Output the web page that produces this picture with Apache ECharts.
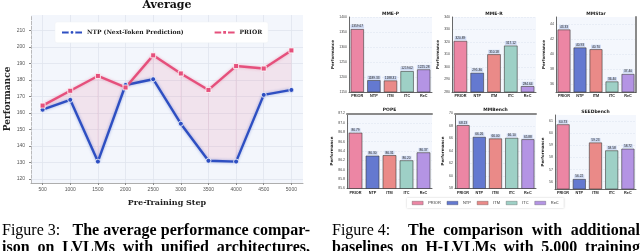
<!DOCTYPE html>
<html><head><meta charset="utf-8">
<script src="https://cdn.jsdelivr.net/npm/echarts@6/dist/echarts.min.js"></script>
<style>html,body{margin:0;padding:0;background:#fff}#c{width:640px;height:251px}</style>
</head><body><div id="c"></div>
<script>
// ---------- data ----------
const steps = [500, 1000, 1500, 2000, 2500, 3000, 3500, 4000, 4500, 5000];
const ntpAvg = [162, 168, 130.5, 177, 180.5, 153.5, 131, 130.5, 171, 174];
const priorAvg = [164.5, 173.5, 182.5, 175.5, 195, 184, 174, 188.5, 187, 198];
const perfTicks = [120, 130, 140, 150, 160, 170, 180, 190, 200, 210];

const methods = ['PRIOR', 'NTP', 'ITM', 'ITC', 'ReC'];
const panelTitles = ['MME-P', 'MME-R', 'MMStar', 'POPE', 'MMBench', 'SEEDbench'];
const mmeP = [1359.67, 1189.33, 1188.31, 1219.62, 1225.28];
const mmeR = [320.89, 295.36, 310.18, 317.12, 284.64];
const mmStar = [43.33, 40.93, 40.70, 36.40, 37.40];
const pope = [86.79, 86.30, 86.31, 86.20, 86.37];
const mmBench = [68.13, 66.26, 66.00, 66.10, 65.88];
const seedBench = [60.73, 56.22, 59.23, 58.58, 58.72];
const mmePTicks = [1150, 1200, 1250, 1300, 1350, 1400];
const mmeRTicks = [280, 290, 300, 310, 320, 330, 340];
const mmStarTicks = [36, 38, 40, 42, 44];
const popeTicks = [85.6, 85.8, 86.0, 86.2, 86.4, 86.6, 86.8, 87.0, 87.2];
const mmBenchTicks = [58, 60, 62, 64, 66, 68, 70];
const seedTicks = [56, 57, 58, 59, 60, 61];

const cap3a = 'Figure 3:';
const cap3b = ['The', 'average', 'performance', 'compar-'];
const cap3c = ['ison', 'on', 'LVLMs', 'with', 'unified', 'architectures,'];
const cap4a = 'Figure 4:';
const cap4b = ['The', 'comparison', 'with', 'additional'];
const cap4c = ['baselines', 'on', 'H-LVLMs', 'with', '5,000', 'training'];

// ---------- styling / layout ----------
const barColors = ['#ec86a4', '#6479d0', '#ea8a88', '#9ed0c6', '#b494e4'];
const panelVals = [mmeP, mmeR, mmStar, pope, mmBench, seedBench];
const panelTicks = [mmePTicks, mmeRTicks, mmStarTicks, popeTicks, mmBenchTicks, seedTicks];
const panelRange = [[1150, 1400], [280, 340], [35, 45], [85.6, 87.2], [58, 70], [55.4, 61.5]];
const panelGrid = [
  {left: 349, top: 17, width: 83, height: 75},
  {left: 452, top: 17, width: 84, height: 75},
  {left: 556, top: 17, width: 80, height: 75},
  {left: 347, top: 113.5, width: 85, height: 75},
  {left: 455, top: 113.5, width: 81, height: 75},
  {left: 555, top: 115, width: 81, height: 74}
];
const tickDigits = [0, 0, 0, 1, 0, 0];

const grids = [{left: 31, top: 15, width: 272, height: 168, show: true, backgroundColor: '#f3f6fc', borderWidth: 0}];
const xAxes = [{
  type: 'value', gridIndex: 0, min: 290, max: 5210,
  axisLabel: {customValues: steps, fontSize: 5, color: '#555', margin: 4, formatter: v => String(v)},
  axisTick: {customValues: steps, length: 2, lineStyle: {color: '#888'}},
  splitLine: {show: true, lineStyle: {color: '#dfe4ee', width: 0.8}},
  axisLine: {lineStyle: {color: '#999', width: 0.8}},
  name: 'Pre-Training Step', nameLocation: 'middle', nameGap: 16,
  nameTextStyle: {fontFamily: 'DejaVu Serif', fontWeight: 'bold', fontSize: 8, color: '#222'}
}];
const yAxes = [{
  type: 'value', gridIndex: 0, min: 117.5, max: 219.5,
  axisLabel: {customValues: perfTicks, fontSize: 5, color: '#555', margin: 6},
  axisTick: {customValues: perfTicks, length: 2, lineStyle: {color: '#888'}},
  splitLine: {show: true, lineStyle: {color: '#dfe4ee', width: 0.8}},
  axisLine: {show: true, lineStyle: {color: '#aaa', width: 0.8, type: 'dashed'}},
  name: 'Performance', nameLocation: 'middle', nameGap: 19,
  nameTextStyle: {fontFamily: 'DejaVu Serif', fontWeight: 'bold', fontSize: 9, color: '#222'}
}];
const series = [];

// fill between the two curves (one polygon per segment, through axis scales)
series.push({
  type: 'custom', xAxisIndex: 0, yAxisIndex: 0, silent: true, z: 1,
  encode: {x: [0, 1], y: [2, 3, 4, 5]},
  data: steps.slice(0, -1).map((s, i) => [s, steps[i + 1], ntpAvg[i], ntpAvg[i + 1], priorAvg[i], priorAvg[i + 1]]),
  renderItem: (params, api) => {
    const p1 = api.coord([api.value(0), api.value(2)]);
    const p2 = api.coord([api.value(1), api.value(3)]);
    const p3 = api.coord([api.value(1), api.value(5)]);
    const p4 = api.coord([api.value(0), api.value(4)]);
    return {type: 'polygon', shape: {points: [p1, p2, p3, p4]},
      style: {fill: 'rgba(232,110,150,0.14)', stroke: 'rgba(232,110,150,0.14)', lineWidth: 0.3}};
  }
});
series.push({type: 'line', name: 'NTP (Next-Token Prediction)', xAxisIndex: 0, yAxisIndex: 0,
  data: steps.map((s, i) => [s, ntpAvg[i]]), color: '#2e4fc2', symbol: 'circle', symbolSize: 5,
  lineStyle: {width: 2.4, shadowBlur: 3, shadowColor: 'rgba(46,79,194,0.45)'},
  itemStyle: {borderColor: '#fff', borderWidth: 0.8}, z: 3});
series.push({type: 'line', name: 'PRIOR', xAxisIndex: 0, yAxisIndex: 0,
  data: steps.map((s, i) => [s, priorAvg[i]]), color: '#e5507c', symbol: 'rect', symbolSize: 5,
  lineStyle: {width: 2.4, shadowBlur: 3, shadowColor: 'rgba(229,80,124,0.4)'},
  itemStyle: {borderColor: '#fff', borderWidth: 0.8}, z: 3});

const titles = [{text: 'Average', left: 167, top: 0, textAlign: 'center', padding: 0,
  textStyle: {fontFamily: 'DejaVu Serif', fontWeight: 'bold', fontSize: 11, color: '#111'}}];

panelVals.forEach((vals, p) => {
  const g = panelGrid[p];
  grids.push(Object.assign({show: true, backgroundColor: '#f4f7fd', borderWidth: 0}, g));
  const gi = grids.length - 1;
  titles.push({text: panelTitles[p], left: g.left + g.width / 2, top: g.top - 6, textAlign: 'center', padding: 0,
    textStyle: {fontFamily: 'DejaVu Sans', fontWeight: 'bold', fontSize: 4.5, color: '#222'}});
  xAxes.push({type: 'category', gridIndex: gi, data: methods,
    axisLabel: {fontSize: 3.8, fontWeight: 'bold', color: '#222', margin: 2, interval: 0},
    axisTick: {show: false}, axisLine: {lineStyle: {color: '#444', width: 0.8}},
    splitLine: {show: false}});
  const xi = xAxes.length - 1;
  const tk = panelTicks[p];
  yAxes.push({type: 'value', gridIndex: gi, min: panelRange[p][0], max: panelRange[p][1],
    axisLabel: {customValues: tk, fontSize: 3.5, color: '#444', margin: 2,
      formatter: v => v.toFixed(tickDigits[p])},
    axisTick: {customValues: tk, length: 1.5, lineStyle: {color: '#666', width: 0.5}},
    axisLine: {show: true, lineStyle: {color: '#444', width: 0.8}},
    splitLine: {show: true, lineStyle: {color: '#dde3ee', width: 0.5, type: 'dashed'}},
    name: 'Performance', nameLocation: 'middle', nameGap: 10,
    nameTextStyle: {fontFamily: 'DejaVu Sans', fontWeight: 'bold', fontSize: 4, color: '#222'}});
  const yi = yAxes.length - 1;
  if (p === 3 || p === 4) {
    xAxes.push({type: 'category', gridIndex: gi, position: 'top', data: methods,
      axisLabel: {show: false}, axisTick: {show: false}, splitLine: {show: false},
      axisLine: {lineStyle: {color: '#8a8a8a', width: 2}}});
  }
  if (p === 2) {
    yAxes.push({type: 'value', gridIndex: gi, position: 'right', min: panelRange[p][0], max: panelRange[p][1],
      axisLabel: {show: false}, axisTick: {show: false}, splitLine: {show: false},
      axisLine: {show: true, lineStyle: {color: '#8a8a8a', width: 2}}});
  }
  methods.forEach((m, k) => {
    series.push({type: 'bar', name: m + '_b', xAxisIndex: xi, yAxisIndex: yi,
      data: vals.map((v, i) => i === k ? v : '-'), barWidth: '80%', barGap: '-100%',
      itemStyle: {color: barColors[k], borderColor: '#3a3a3a', borderWidth: 0.6},
      label: {show: true, position: 'top', distance: 0.5, formatter: d => d.value.toFixed(2),
        fontSize: 3.2, color: '#222', backgroundColor: '#cfdaf3', padding: [0.5, 1]}});
  });
});

// captions (justified)
const measureCtx = document.createElement('canvas').getContext('2d');
function fontStr(bold) { return (bold ? 'bold ' : '') + '16px "Liberation Serif"'; }
function wordW(t, bold) { measureCtx.font = fontStr(bold); return measureCtx.measureText(t).width; }
function textEl(t, x, y, bold) {
  return {type: 'text', x: x, y: y, style: {text: t, font: fontStr(bold), fill: '#000', verticalAlign: 'middle'}};
}
function justify(words, x0, x1, y, bold) {
  const ws = words.map(w => wordW(w, bold));
  const tot = ws.reduce((a, b) => a + b, 0);
  const gap = (x1 - x0 - tot) / (words.length - 1);
  let x = x0;
  return words.map((w, i) => { const el = textEl(w, x, y, bold); x += ws[i] + gap; return el; });
}
const graphics = [].concat(
  [textEl(cap3a, 2, 231, false)],
  justify(cap3b, 72.5, 310, 231, true),
  justify(cap3c, 2, 310, 248, true),
  [textEl(cap4a, 332, 231, false)],
  justify(cap4b, 408, 640, 231, true),
  justify(cap4c, 332, 640, 248, true)
);

const option = {
  animation: false,
  backgroundColor: '#fff',
  title: titles,
  grid: grids,
  xAxis: xAxes,
  yAxis: yAxes,
  legend: [
    {data: ['NTP (Next-Token Prediction)', 'PRIOR'], left: 55, top: 22, padding: [7, 6],
      backgroundColor: '#fff', borderColor: '#eef0f4', borderWidth: 0.5, borderRadius: 2,
      itemGap: 30, itemWidth: 20, itemHeight: 6, lineStyle: {type: 'dashed'},
      textStyle: {fontFamily: 'DejaVu Serif', fontWeight: 'bold', fontSize: 6, color: '#222'}},
    {data: methods.map(m => m + '_b'), formatter: n => n.replace('_b', ''), left: 407, top: 198,
      icon: 'rect', itemWidth: 11, itemHeight: 3.5, itemGap: 6, padding: [3, 5],
      itemStyle: {borderWidth: 0.3},
      backgroundColor: '#fff', shadowBlur: 2, shadowColor: 'rgba(0,0,0,0.2)',
      textStyle: {fontSize: 4, color: '#333'}}
  ],
  graphic: graphics,
  series: series
};
const chart = echarts.init(document.getElementById('c'), null, {renderer: 'canvas'});
chart.setOption(option);
</script></body></html>
